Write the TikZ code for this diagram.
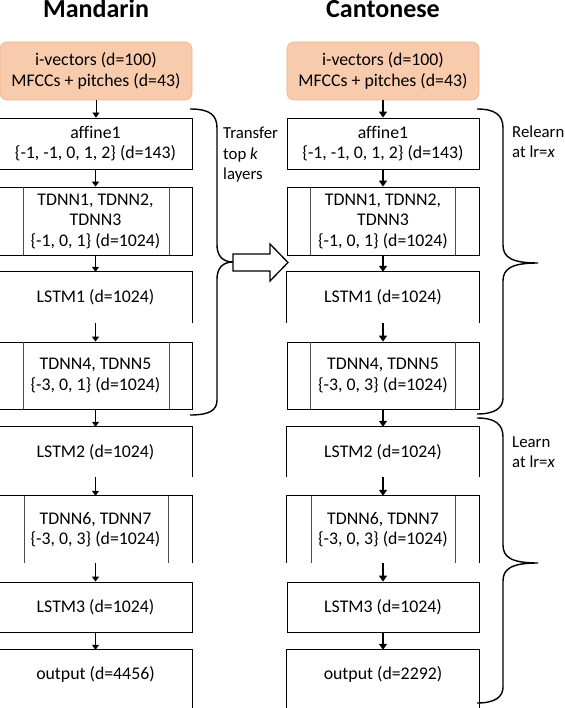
\documentclass[tikz,border=0pt]{standalone}
\usepackage{fontspec}
\setmainfont[Ligatures=NoCommon]{Carlito}
\usetikzlibrary{arrows.meta}
\definecolor{inorange}{HTML}{F8CBAD}
\definecolor{inborder}{HTML}{F4B183}
\begin{document}
\begin{tikzpicture}[x=1pt,y=-1pt,
 layer/.style={inner sep=0pt, align=center, font=\fontsize{17.8}{20.5}\selectfont},
 lbox/.style={layer, minimum width=193pt},
 rbox/.style={layer, minimum width=192pt},
 framed/.style={draw, line width=0.8pt},
 openbox/.style={line width=0.8pt},
 inbox/.style={layer, fill=inorange, draw=inborder, line width=0.6pt, rounded corners=7pt, minimum width=192pt, minimum height=58pt},
 arrl/.style={line width=0.8pt, -{Triangle[width=7pt,length=5pt]}},
 arrr/.style={line width=1.4pt, -{Triangle[width=8pt,length=6pt]}},
 brace/.style={line width=1.4pt},
 innerline/.style={line width=0.5pt, draw=black!70},
 title/.style={anchor=base, inner sep=0pt, font=\fontsize{26}{30}\selectfont\bfseries},
 note/.style={anchor=base west, inner sep=0pt, font=\fontsize{16.8}{20}\selectfont}
]
\useasboundingbox (0,0) rectangle (564,708);

% titles
\node[title] (tm) at (96,18) {Mandarin};
\node[title] (tc) at (383,18) {Cantonese};

% ---------- left column ----------
\node[inbox] (lin) at (96,71) {i-vectors (d=100)\\MFCCs + pitches (d=43)};
\node[lbox, framed, minimum height=51pt] (la) at (95.5,143.5) {affine1\\\{-1, -1, 0, 1, 2\} (d=143)};
\node[lbox, framed, minimum height=68pt] (lt1) at (95.5,221) {TDNN1, TDNN2,\\TDNN3\\\{-1, 0, 1\} (d=1024)};
\node[lbox, minimum height=51pt] (ll1) at (95.5,297.5) {LSTM1 (d=1024)};
\node[lbox, framed, minimum height=67pt] (lt4) at (95.5,375.5) {TDNN4, TDNN5\\\{-3, 0, 1\} (d=1024)};
\node[lbox, minimum height=50pt] (ll2) at (95.5,452) {LSTM2 (d=1024)};
\node[lbox, minimum height=67pt] (lt6) at (95.5,529.5) {TDNN6, TDNN7\\\{-3, 0, 3\} (d=1024)};
\node[lbox, framed, minimum height=50pt] (ll3) at (95.5,607) {LSTM3 (d=1024)};
\node[lbox, minimum height=48pt] (lo) at (95.5,674) {output (d=4456)};

\draw[openbox] (ll1.south west) |- (ll1.north east) -- (ll1.south east);
\draw[openbox] (ll2.south west) |- (ll2.north east) -- (ll2.south east);
\draw[openbox] (lt6.south west) |- (lt6.north east) -- (lt6.south east);
\draw[openbox] ([yshift=-12pt]lo.south west) |- (lo.north east) -- ([yshift=-12pt]lo.south east);

\foreach \n in {lt1,lt4,lt6}{
  \draw[innerline] ([xshift=25pt]\n.north west) -- ([xshift=25pt]\n.south west);
  \draw[innerline] ([xshift=-23.5pt]\n.north east) -- ([xshift=-23.5pt]\n.south east);
}

\draw[arrl] (lin.south) -- (lin.south |- la.north);
\draw[arrl] (la.south) -- (lt1.north);
\draw[arrl] (lt1.south) -- (ll1.north);
\draw[arrl] (ll1.south) -- (lt4.north);
\draw[arrl] (lt4.south) -- (ll2.north);
\draw[arrl] (ll2.south) -- (lt6.north);
\draw[arrl] (lt6.south) -- (ll3.north);
\draw[arrl] (ll3.south) -- (lo.north);

% ---------- right column ----------
\node[inbox] (rin) at (383,71) {i-vectors (d=100)\\MFCCs + pitches (d=43)};
\node[rbox, framed, minimum height=51pt] (ra) at (383,143.5) {affine1\\\{-1, -1, 0, 1, 2\} (d=143)};
\node[rbox, framed, minimum height=68pt] (rt1) at (383,221) {TDNN1, TDNN2,\\TDNN3\\\{-1, 0, 1\} (d=1024)};
\node[rbox, minimum height=51pt] (rl1) at (383,297.5) {LSTM1 (d=1024)};
\node[rbox, framed, minimum height=67pt] (rt4) at (383,375.5) {TDNN4, TDNN5\\\{-3, 0, 3\} (d=1024)};
\node[rbox, minimum height=50pt] (rl2) at (383,452) {LSTM2 (d=1024)};
\node[rbox, minimum height=67pt] (rt6) at (383,529.5) {TDNN6, TDNN7\\\{-3, 0, 3\} (d=1024)};
\node[rbox, framed, minimum height=50pt] (rl3) at (383,607) {LSTM3 (d=1024)};
\node[rbox, minimum height=48pt] (ro) at (383,674) {output (d=2292)};

\draw[openbox] (rl1.south west) |- (rl1.north east) -- (rl1.south east);
\draw[openbox] (rl2.south west) |- (rl2.north east) -- (rl2.south east);
\draw[openbox] (rt6.south west) |- (rt6.north east) -- (rt6.south east);
\draw[openbox] ([yshift=-12pt]ro.south west) |- (ro.north east) -- ([yshift=-12pt]ro.south east);

\foreach \n in {rt1,rt4,rt6}{
  \draw[innerline] ([xshift=24pt]\n.north west) -- ([xshift=24pt]\n.south west);
  \draw[innerline] ([xshift=-24pt]\n.north east) -- ([xshift=-24pt]\n.south east);
}

\draw[arrr] (rin.south) -- (ra.north);
\draw[arrr] (ra.south) -- (rt1.north);
\draw[arrr] (rt1.south) -- (rl1.north);
\draw[arrr] (rl1.south) -- (rt4.north);
\draw[arrr] (rt4.south) -- (rl2.north);
\draw[arrr] (rl2.south) -- (rt6.north);
\draw[arrr] (rt6.south) -- (rl3.north);
\draw[arrr] (rl3.south) -- (ro.north);

% ---------- braces ----------
\draw[brace] (190,109) .. controls (210,109) and (217,115) .. (217,128) -- (217,245)
  .. controls (217,255) and (222,262) .. (233,262)
  .. controls (222,262) and (217,269) .. (217,279) -- (217,400)
  .. controls (217,410) and (210,415) .. (190,415);
\draw[brace] (477,109) .. controls (495,109) and (503,115) .. (503,128) -- (503,245)
  .. controls (503,257) and (511,263) .. (538,263)
  .. controls (511,263) and (503,269) .. (503,281) -- (503,398)
  .. controls (503,408) and (495,414) .. (477,414);
\draw[brace] (477,418) .. controls (495,418) and (503,424) .. (503,437) -- (503,545)
  .. controls (503,557) and (511,563) .. (538,563)
  .. controls (511,563) and (503,569) .. (503,581) -- (503,687)
  .. controls (503,697) and (495,703) .. (477,703);

% block arrow
\draw[line width=1.3pt, fill=white] (233,254) -- (270,254) -- (270,244) -- (288,262.5)
  -- (270,281) -- (270,271) -- (233,271) -- cycle;

% notes
\node[note] (n1) at (223,139) {Transfer};
\node[note] (n2) at (223,160) {top \textit{k}};
\node[note] (n3) at (223,180) {layers};
\node[note] (n4) at (512,138) {Relearn};
\node[note] (n5) at (512,158) {at lr=\textit{x}};
\node[note] (n6) at (512,447) {Learn};
\node[note] (n7) at (512,467) {at lr=\textit{x}};
\end{tikzpicture}
\end{document}
